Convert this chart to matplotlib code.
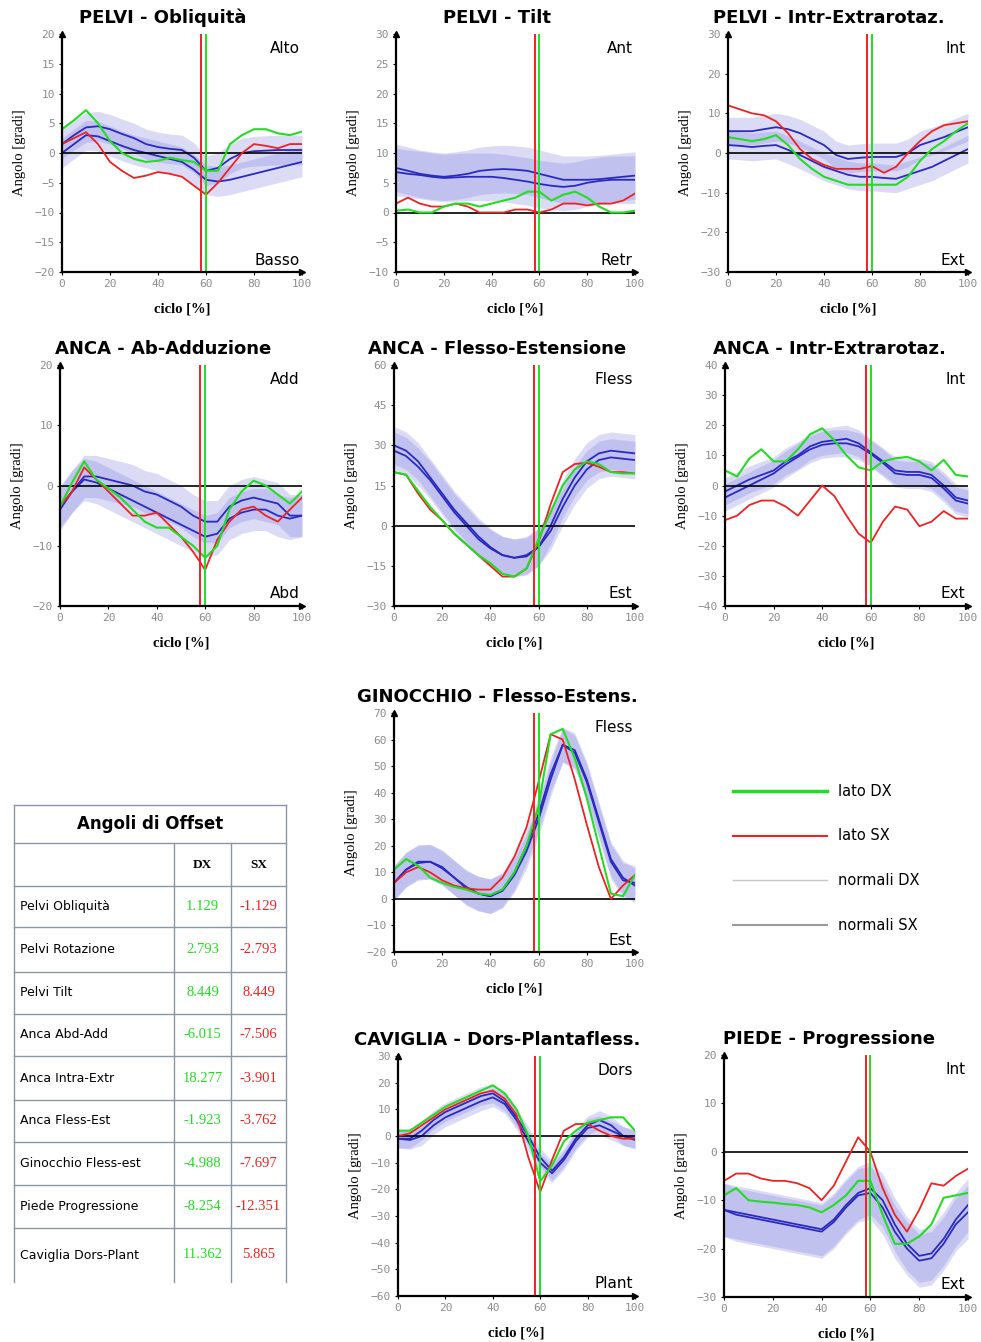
import matplotlib
matplotlib.use("Agg")
import matplotlib.pyplot as plt
import numpy as np

W, H = 981, 1342
CYCLE = list(range(0, 101, 5))

# --- PELVI - Obliquita
obl_dx = [4, 5.5, 7.2, 5, 2, 0, -1, -1.5, -1.3, -0.8, -1.2, -1.5, -3, -3, 1.5, 3, 4, 4, 3.3, 3, 3.6]
obl_sx = [1.5, 2.5, 3.5, 1.5, -1.5, -3, -4.2, -3.8, -3.2, -3.5, -4, -5.5, -7, -5, -2.5, 0, 1.5, 1.2, 0.8, 1.5, 1.5]
obl_n1 = [1.5, 3, 4.3, 4.5, 4, 3.2, 2.5, 1.5, 1, 0.7, 0.5, -0.8, -3, -2.5, -1, 0, 0.3, 0.4, 0.5, 0.5, 0.5]
obl_n2 = [0, 1.5, 3, 2.8, 2, 1.2, 0.5, 0, -0.5, -1, -1.5, -2.8, -4.5, -4.8, -4.5, -4, -3.5, -3, -2.5, -2, -1.5]

# --- PELVI - Tilt
tilt_dx = [0.3, 0.5, 0, 0, 1, 1.5, 1.5, 1, 1.5, 2, 2.5, 3.5, 3.5, 2, 3, 3.5, 2.5, 1, 0, 0, 0.3]
tilt_sx = [1.5, 2.5, 1.5, 1, 1, 1.5, 1, 0, 0, 0, 0.5, 0.5, 0, 0.5, 1.5, 1.5, 1.2, 1.5, 1.5, 2, 3.2]
tilt_n1 = [7.5, 7, 6.5, 6.2, 6, 6.2, 6.5, 7, 7.2, 7.3, 7.2, 7, 6.5, 6, 5.5, 5.5, 5.5, 5.6, 5.8, 6, 6.2]
tilt_n2 = [6.8, 6.5, 6.3, 6, 5.8, 5.9, 6, 6, 6, 5.8, 5.5, 5.2, 4.8, 4.5, 4.3, 4.5, 5, 5.3, 5.5, 5.5, 5.5]

# --- PELVI - Intr-Extrarotaz.
prot_dx = [4, 3.5, 3, 3.5, 4.5, 2, -1.5, -4, -6, -7, -8, -8, -8, -8, -8, -6, -2, 1, 3, 5.5, 7.5]
prot_sx = [12, 11, 10, 9.5, 8, 5, 1, -1.5, -3, -4, -4, -4, -3.3, -5, -3.5, 0, 3, 5.5, 7, 7.5, 8]
prot_n1 = [5.5, 5.5, 5.5, 6, 6.5, 6, 5, 3.5, 2, -0.5, -1.5, -1.2, -1, -1, -1, 0, 2, 3, 4, 5.3, 6.5]
prot_n2 = [2, 1.8, 1.5, 1.8, 2, 0.8, -0.5, -2, -3.5, -4.5, -5.5, -6, -6, -6.3, -6.5, -5.5, -4.5, -3.5, -2, -0.5, 1]

# --- ANCA - Ab-Adduzione
add_dx = [-3.5, 0.5, 4, 1, -0.5, -2, -4, -6, -7, -7, -8.5, -10, -12, -10, -4, -1, 0.8, 0, -1.5, -3, -1]
add_sx = [-3.5, -1, 3, 1, -1, -3, -5, -5, -4.5, -6.5, -8.5, -11, -14, -9, -6, -4, -3.5, -5, -6, -4, -2]
add_n1 = [-3.5, -1, 1.5, 1.5, 1, 0.5, 0, -1, -1.5, -2.5, -3.5, -5, -6, -6, -3.5, -2.5, -2, -2.5, -3, -5, -5]
add_n2 = [-4, -1, 1, 0.5, -0.5, -1.5, -2.5, -3.5, -4.5, -5.5, -6.5, -7.5, -8.5, -8, -5.5, -4.5, -4, -4, -5, -5.5, -5]

# --- ANCA - Flesso-Estensione
hflx_dx = [20, 19, 13, 7, 2, -3, -7, -11, -14, -18, -19, -16, -5, 5, 15, 21, 24, 23, 20, 19.5, 19.5]
hflx_sx = [20, 19, 12, 6, 2, -3, -7, -11, -15, -19, -19, -16, -6, 8, 20, 23, 23.5, 22, 20, 20, 19.5]
hflx_n1 = [30, 28, 24, 18, 12, 6, 1, -4, -8, -11, -12, -11.5, -8, 0, 10, 18, 24, 27, 28, 27.5, 27]
hflx_n2 = [28, 26, 22, 17, 11, 5, 0, -5, -8.5, -11, -12, -11, -8, -2, 7, 15, 21, 24.5, 25.5, 25, 24.5]

# --- ANCA - Intr-Extrarotaz.
hrot_dx = [5, 3, 9, 12, 8, 8, 12, 17, 19, 15, 10, 6, 5, 8, 9, 9.5, 8, 5, 8.5, 3.5, 3]
hrot_sx = [-11.5, -10, -6.5, -5, -5, -7, -10, -5, 0, -3.5, -10, -16, -19, -12, -7, -8, -13.5, -12, -8.5, -11, -11]
hrot_n1 = [-2, 0, 2, 3.5, 5, 8, 10, 13, 14.5, 15, 15.5, 14, 11, 8, 5, 4.5, 4.5, 3.5, 0, -4, -5]
hrot_n2 = [-4, -2, 0, 2, 4, 7, 9.5, 12, 13.5, 14, 14, 13, 10.5, 7.5, 4, 3.5, 3.5, 2.5, -1, -5, -6]

# --- GINOCCHIO - Flesso-Estens.
knee_dx = [11, 15, 12.5, 8, 6, 4.5, 3.5, 2, 1.5, 3.5, 10, 20, 35, 62, 64, 53, 38, 20, 2, 1, 9]
knee_sx = [6, 10, 12, 10, 7, 5, 4, 3.5, 3.5, 8, 16, 27, 44, 62, 60, 45, 28, 12, 0, 5, 9]
knee_n1 = [6, 11, 14, 14, 12, 8, 4.5, 2, 1, 3, 9, 18, 30, 45, 58, 56, 45, 30, 15, 8, 5]
knee_n2 = [6, 11, 13.5, 14, 11.5, 8, 4, 2, 1, 3.5, 10, 20, 32, 47, 58, 55, 44, 29, 14, 7, 6]

# --- CAVIGLIA - Dors-Plantafless.
ank_dx = [2, 2, 5, 8, 11, 13, 15, 17, 19, 16, 10, 0, -17, -11, -2, 2, 5, 6, 7, 7, 2]
ank_sx = [0, 1, 4, 7, 10, 12, 14, 16, 17, 14, 8, -8, -21, -9, 2, 4.5, 4.5, 2, 0, -1, -1]
ank_n1 = [-1, -1, 2, 6, 9, 11, 13, 15, 16, 13, 7, 0, -8, -13, -8, -1, 4, 6, 4, 0, -1]
ank_n2 = [-1, -1.5, 0, 4, 7, 9, 11, 13, 14.5, 12, 6, -2, -10, -14, -9, -2, 3, 4, 2, 0, -1.5]

# --- PIEDE - Progressione
foot_dx = [-9, -7.5, -10, -10.3, -10.5, -10.8, -11, -11.5, -12.5, -11, -9, -6, -6, -13, -19, -19, -17.5, -15, -9.5, -9, -8.5]
foot_sx = [-6, -4.5, -4.5, -5.5, -6, -6, -6.5, -7.5, -10, -7, -2, 3, 0, -7.5, -13, -16.5, -12, -6.5, -7, -5, -3.5]
foot_n1 = [-12, -12.5, -13, -13.5, -14, -14.5, -15, -15.5, -16, -14, -11, -8.5, -7.5, -10, -15, -19, -21.5, -21, -18, -14, -11]
foot_n2 = [-12, -13, -13.5, -14, -14.5, -15, -15.5, -16, -16.5, -14.5, -11.5, -9, -8.5, -11.5, -16.5, -20, -22.5, -22, -19, -15, -12.5]

# toe-off (% ciclo)
TOE_OFF_DX = 60
TOE_OFF_SX = 58

# table
offset_rows = ["Pelvi Obliquità", "Pelvi Rotazione", "Pelvi Tilt", "Anca Abd-Add",
               "Anca Intra-Extr", "Anca Fless-Est", "Ginocchio Fless-est",
               "Piede Progressione", "Caviglia Dors-Plant"]
offset_dx = ["1.129", "2.793", "8.449", "-6.015", "18.277", "-1.923", "-4.988", "-8.254", "11.362"]
offset_sx = ["-1.129", "-2.793", "8.449", "-7.506", "-3.901", "-3.762", "-7.697", "-12.351", "5.865"]

GREEN = "#22dd22"
RED = "#ee2222"
BAND = "#8080e0"
MEAN = "#2a2ac0"

# title, ylim, ytick step, top label, bottom label, dx, sx, n1, n2, sd, (left, top, bottom) px
panels = [
    ("PELVI - Obliquità", (-20, 20), 5, "Alto", "Basso", obl_dx, obl_sx, obl_n1, obl_n2, 2.5, (62, 34, 272)),
    ("PELVI - Tilt", (-10, 30), 5, "Ant", "Retr", tilt_dx, tilt_sx, tilt_n1, tilt_n2, 4.0, (396, 34, 272)),
    ("PELVI - Intr-Extrarotaz.", (-30, 30), 10, "Int", "Ext", prot_dx, prot_sx, prot_n1, prot_n2, 3.5, (728, 34, 272)),
    ("ANCA - Ab-Adduzione", (-20, 20), 10, "Add", "Abd", add_dx, add_sx, add_n1, add_n2, 3.5, (60, 365, 606)),
    ("ANCA - Flesso-Estensione", (-30, 60), 15, "Fless", "Est", hflx_dx, hflx_sx, hflx_n1, hflx_n2, 7.0, (394, 365, 606)),
    ("ANCA - Intr-Extrarotaz.", (-40, 40), 10, "Int", "Ext", hrot_dx, hrot_sx, hrot_n1, hrot_n2, 4.5, (725, 365, 606)),
    ("GINOCCHIO - Flesso-Estens.", (-20, 70), 10, "Fless", "Est", knee_dx, knee_sx, knee_n1, knee_n2, 6.5, (394, 713, 952)),
    ("CAVIGLIA - Dors-Plantafless.", (-60, 30), 10, "Dors", "Plant", ank_dx, ank_sx, ank_n1, ank_n2, 3.5, (398, 1056, 1296)),
    ("PIEDE - Progressione", (-30, 20), 10, "Int", "Ext", foot_dx, foot_sx, foot_n1, foot_n2, 5.5, (724, 1055, 1297)),
]
title_cx = {62: 163, 60: 163, 396: 497, 394: 497, 398: 497, 728: 829, 725: 829, 724: 829}


def draw_panel(fig, title, ylim, ystep, top_lab, bot_lab, dx, sx, n1, n2, sd, box):
    left, top, bottom = box
    width = 968 - left if left > 700 else (635 - left if left > 300 else 302 - left)
    ax = fig.add_axes([left / W, 1 - bottom / H, width / W, (bottom - top) / H])
    x = np.array(CYCLE)
    for m in (n1, n2):
        m = np.array(m)
        ax.fill_between(x, m - sd, m + sd, color=BAND, alpha=0.28, lw=0)
    for m in (n1, n2):
        ax.plot(x, m, color=MEAN, lw=1.3)
    ax.axhline(0, color="black", lw=1.2)
    ax.plot(x, sx, color=RED, lw=1.3)
    ax.plot(x, dx, color=GREEN, lw=1.5)
    ax.axvline(TOE_OFF_SX, color=RED, lw=1.4)
    ax.axvline(TOE_OFF_DX, color=GREEN, lw=1.4)

    ax.set_xlim(0, 100)
    ax.set_ylim(*ylim)
    ax.set_xticks(range(0, 101, 20))
    ax.set_yticks(np.arange(ylim[0], ylim[1] + 0.1, ystep))
    for s in ("top", "right"):
        ax.spines[s].set_visible(False)
    for s in ("left", "bottom"):
        ax.spines[s].set_linewidth(1.6)
    ax.tick_params(length=2, width=0.8, labelsize=8, labelcolor="#8c8c8c", pad=3)
    for lab in ax.get_xticklabels() + ax.get_yticklabels():
        lab.set_family("DejaVu Sans Mono")
    ax.plot(0, 1, marker="^", color="black", ms=4, transform=ax.transAxes, clip_on=False)
    ax.plot(1, 0, marker=">", color="black", ms=4, transform=ax.transAxes, clip_on=False)

    ax.set_ylabel("Angolo [gradi]", family="Liberation Serif", fontsize=10.5, labelpad=6)
    ax.set_xlabel("ciclo [%]", family="Liberation Serif", fontsize=10.5, weight="bold", labelpad=10)
    ax.text(0.99, 0.94, top_lab, transform=ax.transAxes, ha="right", va="center", fontsize=11)
    ax.text(0.99, 0.05, bot_lab, transform=ax.transAxes, ha="right", va="center", fontsize=11)
    fig.text(title_cx[left] / W, 1 - (top - 16) / H, title, ha="center", va="center",
             fontsize=13, weight="bold")
    return ax


fig = plt.figure(figsize=(W / 100, H / 100), dpi=100)
for p in panels:
    draw_panel(fig, *p)

# overlay in pixel coords for table + legend
ov = fig.add_axes([0, 0, 1, 1])
ov.set_xlim(0, W)
ov.set_ylim(H, 0)
ov.axis("off")

tab_left, tab_right = 14, 286
col_x = [14, 174, 231, 286]
row_y = [805, 843, 886, 927, 972, 1014, 1056, 1100, 1142, 1185, 1228, 1282]
line_c = "#8a96a8"
for yy in row_y[:-1]:
    ov.plot([tab_left, tab_right], [yy, yy], color=line_c, lw=1)
ov.plot([tab_left, tab_left], [row_y[0], row_y[-1]], color=line_c, lw=1)
ov.plot([tab_right, tab_right], [row_y[0], row_y[-1]], color=line_c, lw=1)
for cx in col_x[1:3]:
    ov.plot([cx, cx], [row_y[1], row_y[-1]], color=line_c, lw=1)
ov.text((tab_left + tab_right) / 2, (row_y[0] + row_y[1]) / 2, "Angoli di Offset",
        ha="center", va="center", fontsize=12, weight="bold")
ov.text((col_x[1] + col_x[2]) / 2, (row_y[1] + row_y[2]) / 2, "DX", ha="center", va="center",
        family="Liberation Serif", weight="bold", fontsize=9.5)
ov.text((col_x[2] + col_x[3]) / 2, (row_y[1] + row_y[2]) / 2, "SX", ha="center", va="center",
        family="Liberation Serif", weight="bold", fontsize=9.5)
for i, name in enumerate(offset_rows):
    yc = (row_y[i + 2] + row_y[i + 3]) / 2
    ov.text(20, yc, name, ha="left", va="center", fontsize=9)
    ov.text((col_x[1] + col_x[2]) / 2, yc, offset_dx[i], ha="center", va="center",
            family="Liberation Serif", fontsize=10.5, color=GREEN)
    ov.text((col_x[2] + col_x[3]) / 2, yc, offset_sx[i], ha="center", va="center",
            family="Liberation Serif", fontsize=10.5, color=RED)

# legend
legend_items = [("lato DX", GREEN, 2.5), ("lato SX", RED, 1.5),
                ("normali DX", "#c8c8c8", 1.0), ("normali SX", "#9a9a9a", 1.5)]
for i, (lab, col, lw) in enumerate(legend_items):
    yy = 791 + i * 44.7
    ov.plot([733, 827], [yy, yy], color=col, lw=lw)
    ov.text(838, yy, lab, ha="left", va="center", fontsize=10.5)

fig.savefig("out.png", dpi=100)
